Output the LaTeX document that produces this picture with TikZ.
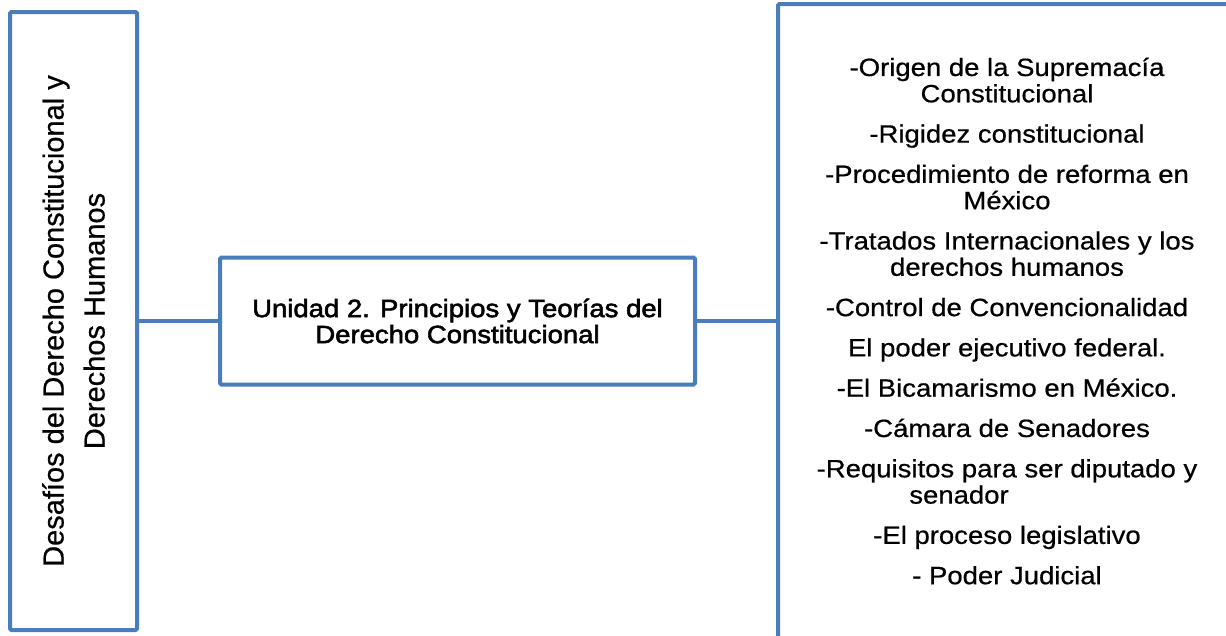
\documentclass[tikz,border=0pt]{standalone}
\usepackage{fontspec}
\setmainfont{Liberation Sans}[FakeStretch=1.1,FakeBold=0.6]
\newfontfamily\sidefont{Liberation Sans}[FakeBold=0.6]
\newfontfamily\unitfont{Liberation Sans}[FakeStretch=1.1,FakeBold=2.2]
\usepackage{xcolor}
\usepackage{tikz}
\usetikzlibrary{positioning}
\definecolor{boxblue}{RGB}{74,126,187}

\begin{document}
\begin{tikzpicture}[
				x=1pt, y=1pt,
				box/.style={
					rectangle,
					draw=boxblue,
					line width=4pt,
					align=center,
					rounded corners=1.5pt,
					fill=white,
					inner sep=0pt
				},
				link/.style={
					draw=boxblue,
					line width=4pt
				}
			]
			\clip (0,0) rectangle (1226,-635);
			% Nodes
			\node[box, rotate=90, minimum width=618, minimum height=127,
				font=\sidefont\fontsize{29}{41}\selectfont] (side) at (73.5,-321)
				{Desafíos del Derecho Constitucional y\\ Derechos Humanos};
			
			\node[box, minimum width=475, minimum height=127,
				font=\unitfont\fontsize{25}{26}\selectfont] (unit) at (457.5,-321)
				{Unidad 2. Principios y Teorías del\\ Derecho Constitucional};
			
			\node[box, minimum width=458, minimum height=634,
				font=\fontsize{25}{26.3}\selectfont] (topics) at (1007,-321)
				{-Origen de la Supremacía\\ Constitucional\\[14pt]
				-Rigidez constitucional\\[14pt]
				-Procedimiento de reforma en\\ México\\[14pt]
				-Tratados Internacionales y los\\ derechos humanos\\[14pt]
				-Control de Convencionalidad\\[14pt]
				El poder ejecutivo federal.\\[14pt]
				-El Bicamarismo en México.\\[14pt]
				-Cámara de Senadores\\[14pt]
				-Requisitos para ser diputado y\\ senador\hspace*{96pt}\null\\[14pt]
				-El proceso legislativo\\[14pt]
				- Poder Judicial};
			
			\draw[link] (side) -- (unit);
			\draw[link] (unit) -- (topics);
		\end{tikzpicture}
\end{document}
